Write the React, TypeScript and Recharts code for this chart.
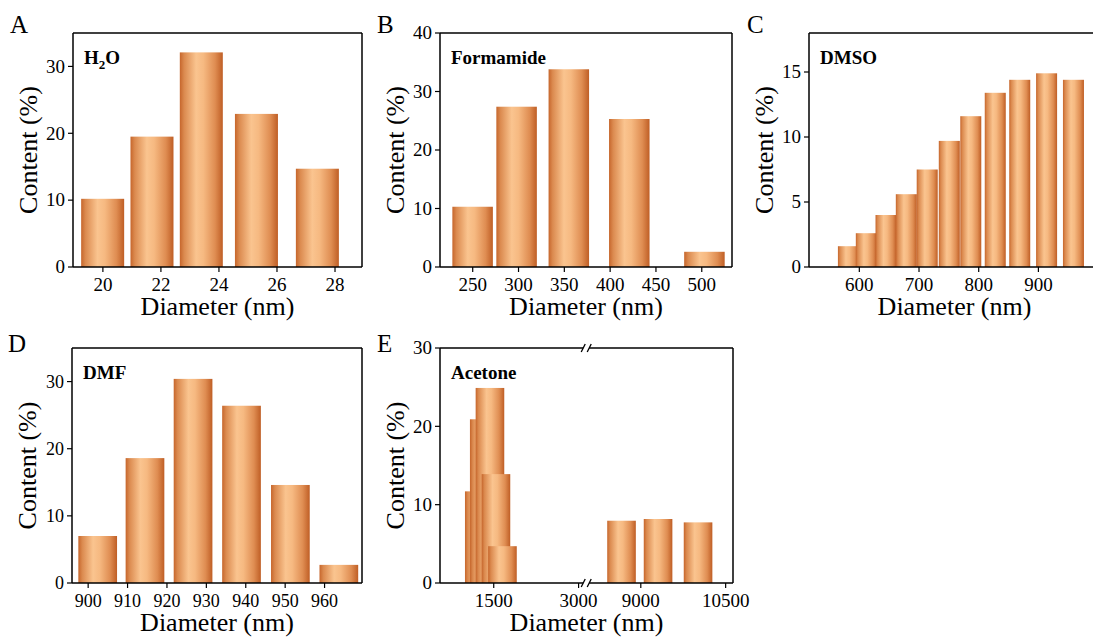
import React from 'react';
import { BarChart, Bar, XAxis, YAxis, ReferenceLine } from 'recharts';

const FONT = '"Times New Roman", "Liberation Serif", serif';

// A: H2O
const h2oDiameter = [20, 21.7, 23.4, 25.3, 27.4];
const h2oContent = [10.2, 19.5, 32.1, 22.9, 14.7];
const h2oTicks = [20, 22, 24, 26, 28];

// B: Formamide
const formamideDiameter = [250, 298, 355, 421, 503];
const formamideContent = [10.3, 27.4, 33.8, 25.3, 2.6];
const formamideTicks = [250, 300, 350, 400, 450, 500];

// C: DMSO
const dmsoDiameter = [582, 612, 645, 679, 714, 751, 787, 828, 869, 914, 959];
const dmsoContent = [1.6, 2.6, 4.0, 5.6, 7.5, 9.7, 11.6, 13.4, 14.4, 14.9, 14.4];
const dmsoTicks = [600, 700, 800, 900];

// D: DMF
const dmfDiameter = [902.4, 914.4, 926.6, 938.9, 951.3, 963.6];
const dmfContent = [7.0, 18.6, 30.4, 26.4, 14.6, 2.7];
const dmfTicks = [900, 910, 920, 930, 940, 950, 960];

// E: Acetone, x axis broken between 3000 and 9000
const acetoneDiameter = [1244, 1332, 1433, 1539, 1654, 8659, 9305, 10012];
const acetoneContent = [11.7, 20.9, 24.9, 13.9, 4.7, 7.95, 8.17, 7.74];
const acetoneTicks = [1500, 3000, 9000, 10500];

const BREAK_AT = 3135;
const BREAK_SKIP = 4900;
const toAxis = (d: number) => (d > BREAK_AT ? d - BREAK_SKIP : d);
const fromAxis = (v: number) => (v > BREAK_AT ? v + BREAK_SKIP : v);

type Box = { l: number; t: number; r: number; b: number };

interface PanelProps {
  letter: string;
  letterAt: [number, number];
  title: React.ReactNode;
  box: Box;
  diameter: number[];
  content: number[];
  xTicks: number[];
  xDomain: [number, number];
  yTicks: number[];
  yDomain: [number, number];
  barWidth: number;
  tickSize?: number;
  axisBreak?: boolean;
}

const barShape = (w: number) => (props: any) => {
  const { x, y, width, height } = props;
  const cx = x + width / 2;
  return <rect x={cx - w / 2} y={y} width={w} height={height} fill="url(#barShade)" />;
};

// serif tick labels; dy shifts the text so the given y is its top (x axis) or middle (y axis)
const serifTick = (size: number, dy: string, fmt: (v: number) => string) => (props: any) => (
  <text
    x={props.x}
    y={props.y}
    dy={dy}
    textAnchor={props.textAnchor}
    fontSize={size}
    fontFamily={FONT}
    fill="#000"
  >
    {fmt(props.payload.value)}
  </text>
);

const Panel = ({
  letter, letterAt, title, box, diameter, content, xTicks, xDomain, yTicks, yDomain, barWidth, tickSize = 19, axisBreak,
}: PanelProps) => {
  const { l, t, r, b } = box;
  const data = diameter.map((d, i) => ({ d: axisBreak ? toAxis(d) : d, v: content[i] }));
  const ticks = axisBreak ? xTicks.map(toAxis) : xTicks;
  const xFmt = (v: number) => String(axisBreak ? fromAxis(v) : v);
  const axisLine = { stroke: '#000', strokeWidth: 1.5 };
  const tickLine = { stroke: '#000', strokeWidth: 1.2 };
  const breakX = l + ((BREAK_AT - xDomain[0]) / (xDomain[1] - xDomain[0])) * (r - l);

  return (
    <>
      <div style={{ position: 'absolute', left: l - 70, top: t - 10 }}>
        <BarChart
          width={r - l + 110}
          height={b - t + 50}
          data={data}
          margin={{ top: 10, right: 40, bottom: 0, left: 10 }}
        >
          <XAxis
            dataKey="d"
            type="number"
            domain={xDomain}
            allowDataOverflow
            ticks={ticks}
            tick={serifTick(tickSize, '0.71em', xFmt)}
            tickSize={5}
            tickMargin={6}
            height={40}
            axisLine={axisLine}
            tickLine={tickLine}
            interval={0}
          />
          <YAxis
            type="number"
            domain={yDomain}
            allowDataOverflow
            ticks={yTicks}
            tick={serifTick(tickSize, '0.33em', (v) => String(v))}
            tickSize={5}
            tickMargin={3}
            width={60}
            axisLine={axisLine}
            tickLine={tickLine}
            interval={0}
          />
          {/* top and right sides of the frame */}
          <ReferenceLine y={yDomain[1]} stroke="#000" strokeWidth={1.5} />
          <ReferenceLine x={xDomain[1]} stroke="#000" strokeWidth={1.5} />
          <Bar dataKey="v" isAnimationActive={false} shape={barShape(barWidth)} />
        </BarChart>
      </div>
      <svg width={1093} height={637} style={{ position: 'absolute', left: 0, top: 0, pointerEvents: 'none', overflow: 'visible' }}>
        <text x={letterAt[0]} y={letterAt[1]} fontSize={25} fontFamily={FONT} fill="#000">{letter}</text>
        <text x={l + 11} y={t + 31} fontSize={19} fontWeight="bold" fontFamily={FONT} fill="#000">{title}</text>
        <text
          x={l - 45}
          y={(t + b) / 2}
          fontSize={26}
          fontFamily={FONT}
          fill="#000"
          textAnchor="middle"
          dominantBaseline="central"
          transform={`rotate(-90 ${l - 45} ${(t + b) / 2})`}
        >
          Content (%)
        </text>
        <text x={(l + r) / 2} y={b + 48} fontSize={26} fontFamily={FONT} fill="#000" textAnchor="middle">
          Diameter (nm)
        </text>
        {axisBreak &&
          [t, b].map((y) => (
            <g key={y}>
              <rect x={breakX - 3} y={y - 2} width={6} height={4} fill="#fff" />
              <line x1={breakX - 5} y1={y + 4} x2={breakX - 1} y2={y - 4} stroke="#000" strokeWidth={1.3} />
              <line x1={breakX + 1} y1={y + 4} x2={breakX + 5} y2={y - 4} stroke="#000" strokeWidth={1.3} />
            </g>
          ))}
      </svg>
    </>
  );
};

const App = () => (
  <div style={{ position: 'fixed', left: 0, top: 0, width: 1093, height: 637, overflow: 'hidden', background: '#fff' }}>
    <svg width={0} height={0} style={{ position: 'absolute' }}>
      <defs>
        <linearGradient id="barShade" x1="0" y1="0" x2="1" y2="0">
          <stop offset="0%" stopColor="#c6662c" />
          <stop offset="10%" stopColor="#db8a4f" />
          <stop offset="38%" stopColor="#fac48f" />
          <stop offset="55%" stopColor="#f6b981" />
          <stop offset="82%" stopColor="#df8d52" />
          <stop offset="100%" stopColor="#bf5e25" />
        </linearGradient>
      </defs>
    </svg>

    <Panel
      letter="A"
      letterAt={[10, 33]}
      title={<>H<tspan fontSize={13} dy={5}>2</tspan><tspan dy={-5}>O</tspan></>}
      box={{ l: 73, t: 33, r: 362, b: 267 }}
      diameter={h2oDiameter}
      content={h2oContent}
      xTicks={h2oTicks}
      xDomain={[18.97, 28.93]}
      yTicks={[0, 10, 20, 30]}
      yDomain={[0, 35]}
      barWidth={43}
    />
    <Panel
      letter="B"
      letterAt={[377, 33]}
      title="Formamide"
      box={{ l: 440, t: 33, r: 732, b: 267 }}
      diameter={formamideDiameter}
      content={formamideContent}
      xTicks={formamideTicks}
      xDomain={[214.3, 533]}
      yTicks={[0, 10, 20, 30, 40]}
      yDomain={[0, 40]}
      barWidth={40.5}
    />
    <Panel
      letter="C"
      letterAt={[747, 33]}
      title="DMSO"
      box={{ l: 809, t: 33, r: 1100, b: 267 }}
      diameter={dmsoDiameter}
      content={dmsoContent}
      xTicks={dmsoTicks}
      xDomain={[515.7, 1003.2]}
      yTicks={[0, 5, 10, 15]}
      yDomain={[0, 18]}
      barWidth={21}
    />
    <Panel
      letter="D"
      letterAt={[8, 352]}
      title="DMF"
      box={{ l: 72, t: 348, r: 362, b: 583 }}
      diameter={dmfDiameter}
      content={dmfContent}
      xTicks={dmfTicks}
      xDomain={[895.9, 969.5]}
      yTicks={[0, 10, 20, 30]}
      yDomain={[0, 35]}
      barWidth={38.7}
      tickSize={18}
    />
    <Panel
      letter="E"
      letterAt={[377, 352]}
      title="Acetone"
      box={{ l: 440, t: 348, r: 733, b: 583 }}
      diameter={acetoneDiameter}
      content={acetoneContent}
      xTicks={acetoneTicks}
      xDomain={[550, 5730]}
      yTicks={[0, 10, 20, 30]}
      yDomain={[0, 30]}
      barWidth={28.6}
      axisBreak
    />
  </div>
);

export default App;
